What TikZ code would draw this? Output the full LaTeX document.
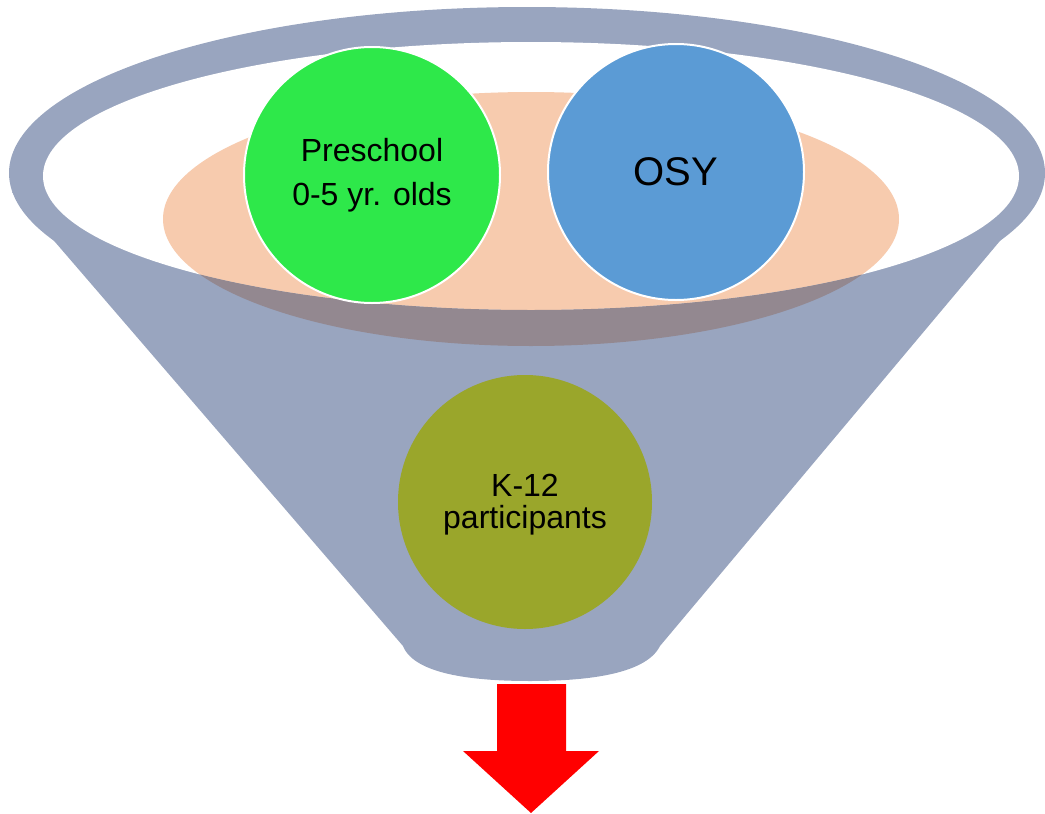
\documentclass[tikz,border=0pt]{standalone}
\usepackage{fontspec}
\setmainfont{Liberation Sans}
\definecolor{funnel}{HTML}{99A5BF}
\definecolor{peach}{HTML}{F7CBAE}
\definecolor{mauve}{HTML}{938890}
\definecolor{pgreen}{HTML}{2EE84A}
\definecolor{pblue}{HTML}{5B9BD5}
\definecolor{polive}{HTML}{9AA62B}
\begin{document}
\begin{tikzpicture}[x=1pt,y=-1pt,
  bubble/.style={circle,inner sep=0pt,minimum size=256pt,align=center,text=black},
  txt/.style={font=\fontsize{32}{44}\selectfont}]
\useasboundingbox (0,0) rectangle (1045,814);
% funnel body
\fill[funnel] (527,173) ellipse [x radius=518,y radius=166];
\fill[funnel] (12,192) -- (1041,192) -- (660,646)
  .. controls (645,676) and (580,681) .. (530,681)
  .. controls (480,681) and (415,676) .. (403,646) -- cycle;
% hole
\fill[white] (531,176) ellipse [x radius=488,y radius=134];
% peach ellipse
\begin{scope}
  \clip (531,176) ellipse [x radius=488,y radius=134];
  \fill[peach] (531,219) ellipse [x radius=368,y radius=127];
\end{scope}
\begin{scope}
  \clip (531,219) ellipse [x radius=368,y radius=127];
  \fill[mauve,even odd rule] (0,0) rectangle (1045,400) (531,176) ellipse [x radius=488,y radius=134];
\end{scope}
% circles
\node[bubble,fill=pgreen,draw=white,line width=2pt,txt] (pre) at (372,175) {Preschool\\0-5 yr. olds};
\node[bubble,fill=pblue,draw=white,line width=2pt,font=\fontsize{40}{48}\selectfont] (osy) at (676,172) {OSY};
\node[bubble,fill=polive,minimum size=254pt] (k12) at (525,502) {};
\node[align=center,font=\fontsize{32}{32}\selectfont,text=black] (k12t) at (525,505) {K-12\\participants};
% arrow
\fill[red] (497,684) -- (566,684) -- (566,751) -- (599,751) -- (531,813) -- (463,751) -- (497,751) -- cycle;
\end{tikzpicture}
\end{document}
